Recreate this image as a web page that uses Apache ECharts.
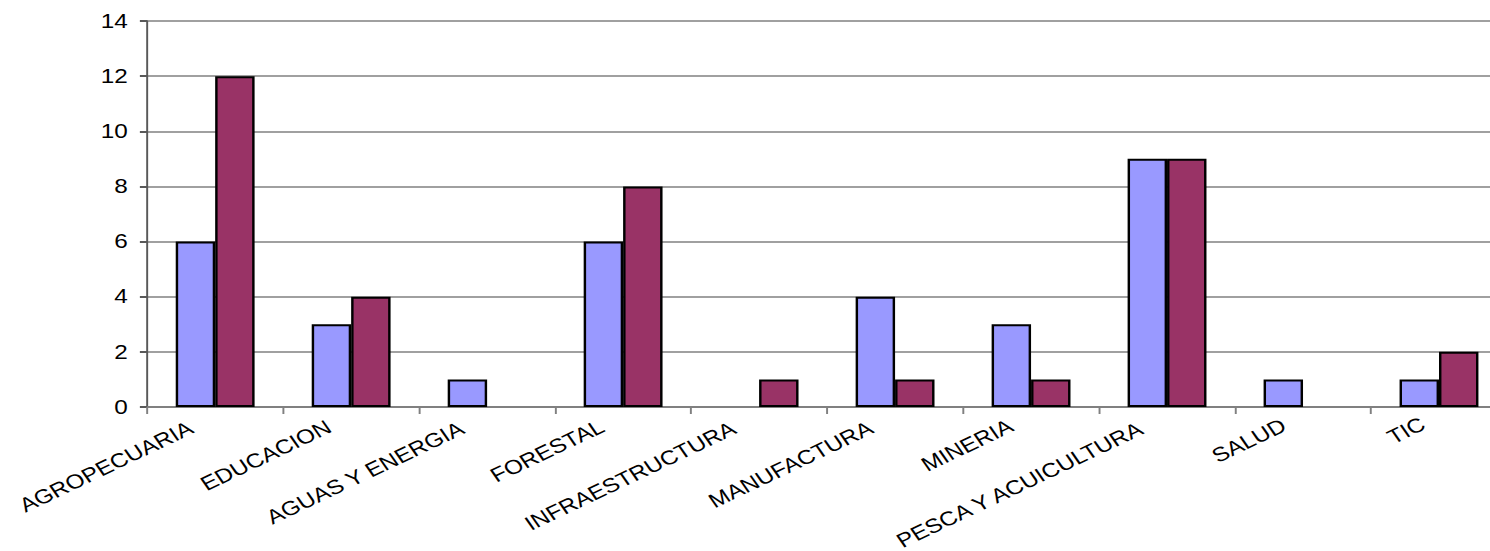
<!DOCTYPE html>
<html>
<head>
<meta charset="utf-8">
<script src="https://cdn.jsdelivr.net/npm/echarts@6/dist/echarts.min.js"></script>
<style>
html,body{margin:0;padding:0;background:#fff;overflow:hidden;}
#wrap{width:1490px;height:551px;overflow:hidden;}
#chart{width:1225px;height:551px;transform:scaleX(1.2163);transform-origin:0 0;}
</style>
</head>
<body>
<div id="wrap"><div id="chart"></div></div>
<script>
const categories = ['AGROPECUARIA','EDUCACION','AGUAS Y ENERGIA','FORESTAL','INFRAESTRUCTURA','MANUFACTURA','MINERIA','PESCA Y ACUICULTURA','SALUD','TIC'];
const seriesA = [6, 3, 1, 6, null, 4, 3, 9, 1, 1];
const seriesB = [12, 4, null, 8, 1, 1, 1, 9, null, 2];
const yTicks = [0, 2, 4, 6, 8, 10, 12, 14];

const FONT = "'Liberation Sans', Arial, sans-serif";
const FS = 20;

// label nudge grows slightly with label length (mimics the source layout)
const ctx = document.createElement('canvas').getContext('2d');
ctx.font = FS + 'px ' + FONT;
const xData = categories.map(function (c) {
  const w = ctx.measureText(c).width;
  const extra = Math.max(0, w - 150) * 0.15;
  return {value: c, textStyle: {padding: [0, Math.round(13 + 0.068 * w - 0.29 * extra), Math.round(0.05 * w + extra), 0]}};
});

const chart = echarts.init(document.getElementById('chart'), null, {renderer:'svg'});
chart.setOption({
  animation: false,
  backgroundColor: '#fff',
  textStyle: {fontFamily: FONT},
  grid: {left: 121, top: 21, width: 1118, height: 386, containLabel: false, outerBoundsMode: 'none'},
  xAxis: {
    type: 'category',
    data: xData,
    boundaryGap: true,
    axisLine: {lineStyle: {color: '#808080', width: 2}},
    axisTick: {show: true, alignWithLabel: false, length: 7, lineStyle: {color: '#808080', width: 1.6}},
    axisLabel: {
      interval: 0, rotate: 30, fontSize: FS, color: '#000',
      margin: 8, fontFamily: FONT
    },
    splitLine: {show: false}
  },
  yAxis: {
    type: 'value',
    min: yTicks[0], max: yTicks[yTicks.length - 1], interval: 2,
    axisLine: {show: true, lineStyle: {color: '#595959', width: 1.6}},
    axisTick: {show: true, length: 6, lineStyle: {color: '#595959', width: 2}},
    axisLabel: {fontSize: FS, color: '#000', margin: 16, fontFamily: FONT},
    splitLine: {show: true, lineStyle: {color: '#808080', width: 1.5}}
  },
  series: [
    {type: 'bar', data: seriesA, barGap: '0%', barCategoryGap: '42%',
     itemStyle: {color: '#9999FF', borderColor: '#000', borderWidth: 2}},
    {type: 'bar', data: seriesB, barGap: '0%', barCategoryGap: '42%',
     itemStyle: {color: '#993366', borderColor: '#000', borderWidth: 2}}
  ]
});
</script>
</body>
</html>
